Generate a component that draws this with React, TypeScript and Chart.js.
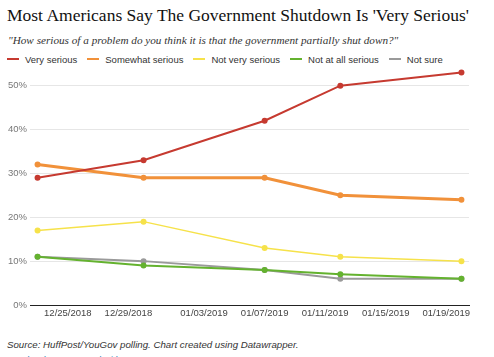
import React, { useEffect, useRef } from "react";
import { Chart, registerables } from "chart.js";

Chart.register(...registerables);

const title = "Most Americans Say The Government Shutdown Is 'Very Serious'";
const subtitle = "\"How serious of a problem do you think it is that the government partially shut down?\"";
const source = "Source: HuffPost/YouGov polling. Chart created using Datawrapper.";
const linkText = "Get the data \u00b7 Created with Datawrapper";

const pollDates = ["2018-12-23", "2018-12-30", "2019-01-07", "2019-01-12", "2019-01-20"];
const xTickDates = ["2018-12-25", "2018-12-29", "2019-01-03", "2019-01-07", "2019-01-11", "2019-01-15", "2019-01-19"];
const yTicks = [0, 10, 20, 30, 40, 50];

const seriesNames = ["Very serious", "Somewhat serious", "Not very serious", "Not at all serious", "Not sure"];
const verySerious = [29, 33, 42, 50, 53];
const somewhatSerious = [32, 29, 29, 25, 24];
const notVerySerious = [17, 19, 13, 11, 10];
const notAtAllSerious = [11, 9, 8, 7, 6];
const notSure = [11, 10, 8, 6, 6];
const seriesValues = [verySerious, somewhatSerious, notVerySerious, notAtAllSerious, notSure];

const seriesColors = ["#c63a30", "#f1913a", "#f6e24a", "#64b22f", "#9a9a9a"];
const seriesWidths = [2, 3, 1.5, 2, 2];

const dayNum = (s: string) => {
  const [y, m, d] = s.split("-").map(Number);
  return Date.UTC(y, m - 1, d) / 86400000;
};
const fmt = (v: number) => {
  const dt = new Date(Math.round(v) * 86400000);
  const mm = String(dt.getUTCMonth() + 1).padStart(2, "0");
  const dd = String(dt.getUTCDate()).padStart(2, "0");
  return `${mm}/${dd}/${dt.getUTCFullYear()}`;
};

const sans = "'Liberation Sans', Arial, Helvetica, sans-serif";
const serif = "'Liberation Serif', 'Times New Roman', serif";

export default function App() {
  const ref = useRef<HTMLCanvasElement | null>(null);

  useEffect(() => {
    document.body.style.margin = "0";
    if (!ref.current) return;
    const xs = pollDates.map(dayNum);
    const chart = new Chart(ref.current, {
      type: "line",
      data: {
        datasets: seriesNames.map((name, i) => ({
          label: name,
          data: xs.map((x, j) => ({ x, y: seriesValues[i][j] })),
          borderColor: seriesColors[i],
          backgroundColor: seriesColors[i],
          borderWidth: seriesWidths[i],
          pointRadius: 3,
          pointBorderWidth: 0,
          pointHoverRadius: 3,
          tension: 0,
          fill: false,
        })),
      },
      options: {
        animation: false,
        responsive: false,
        maintainAspectRatio: false,
        layout: { padding: { left: 0, right: 25, top: 3, bottom: 0 } },
        plugins: { legend: { display: false }, tooltip: { enabled: false } },
        scales: {
          x: {
            type: "linear",
            min: xs[0] - 0.5,
            max: xs[xs.length - 1] + 0.5,
            afterBuildTicks: (scale: any) => {
              scale.ticks = xTickDates.map((d) => ({ value: dayNum(d) }));
            },
            afterFit: (scale: any) => {
              scale.height = 25;
            },
            grid: { display: false, drawTicks: false },
            border: { display: true, color: "#222", width: 1 },
            ticks: {
              autoSkip: false,
              maxRotation: 0,
              padding: 3,
              color: "#444",
              font: { family: sans, size: 9.5 },
              callback: (v: any) => fmt(Number(v)),
            },
          },
          y: {
            min: 0,
            max: 55,
            afterBuildTicks: (scale: any) => {
              scale.ticks = yTicks.map((v) => ({ value: v }));
            },
            afterFit: (scale: any) => {
              scale.width = 30;
            },
            grid: {
              drawTicks: false,
              color: (ctx: any) => (ctx.tick && ctx.tick.value === 0 ? "rgba(0,0,0,0)" : "#e6e6e6"),
              lineWidth: 1,
            },
            border: { display: false },
            ticks: {
              padding: 3,
              color: "#777",
              font: { family: sans, size: 9.5 },
              callback: (v: any) => `${v}%`,
            },
          },
        },
      },
    });
    return () => chart.destroy();
  }, []);

  return (
    <div style={{ position: "relative", width: 494, height: 357, overflow: "hidden", background: "#fff" }}>
      <div style={{ position: "absolute", left: 7, top: 4, fontFamily: serif, fontSize: 17.5, lineHeight: "22px", color: "#111", whiteSpace: "nowrap" }}>
        {title}
      </div>
      <div style={{ position: "absolute", left: 8, top: 33, fontFamily: serif, fontStyle: "italic", fontSize: 11.2, lineHeight: "15px", color: "#333", whiteSpace: "nowrap" }}>
        {subtitle}
      </div>
      <div style={{ position: "absolute", left: 7, top: 52, height: 14, display: "flex", alignItems: "center", fontFamily: sans, fontSize: 9.5, color: "#333", whiteSpace: "nowrap" }}>
        {seriesNames.map((n, i) => (
          <div key={n} style={{ display: "flex", alignItems: "center", marginRight: 10 }}>
            <span style={{ display: "inline-block", width: 12, height: 2, background: seriesColors[i], marginRight: 6 }} />
            <span>{n}</span>
          </div>
        ))}
      </div>
      <canvas ref={ref} width={494} height={275} style={{ position: "absolute", left: 0, top: 55, width: 494, height: 275 }} />
      <div style={{ position: "absolute", left: 7, top: 338, fontFamily: sans, fontStyle: "italic", fontSize: 9.7, lineHeight: "14px", color: "#333", whiteSpace: "nowrap" }}>
        {source}
      </div>
      <div style={{ position: "absolute", left: 7, top: 353, fontFamily: sans, fontSize: 9.5, lineHeight: "14px", color: "#2a7fb8", whiteSpace: "nowrap" }}>
        {linkText}
      </div>
    </div>
  );
}
